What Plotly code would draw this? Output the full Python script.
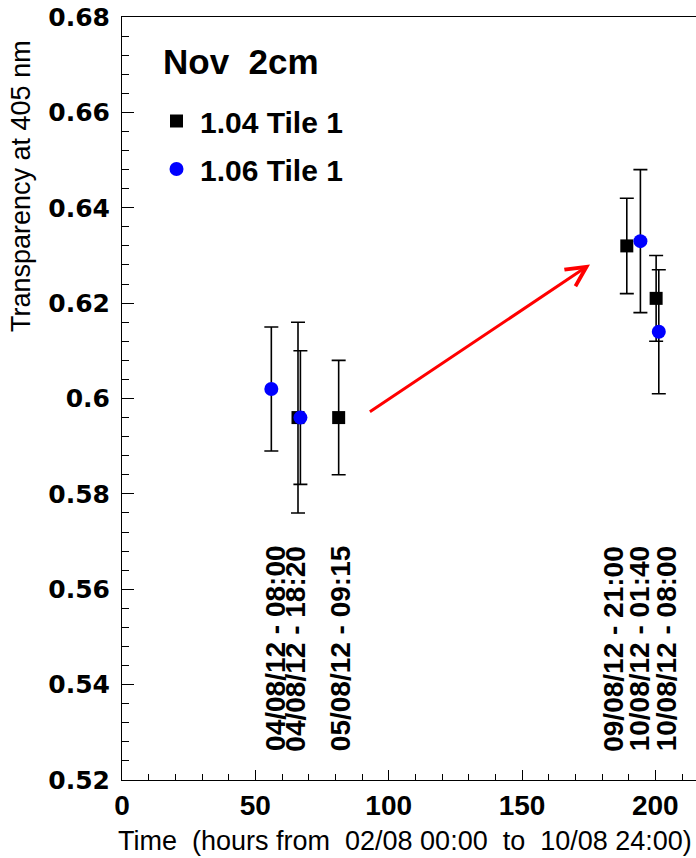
import plotly.graph_objects as go

# Transparency at 405 nm, Nov 2cm samples
# times in hours from 02/08 00:00
t_104 = [66.0, 81.25, 189.3, 200.3]
v_104 = [0.596, 0.596, 0.632, 0.621]
e_104_up = [0.020, 0.012, 0.010, 0.009]
e_104_dn = [0.020, 0.012, 0.010, 0.009]

t_106 = [56.0, 66.9, 194.4, 201.3]
v_106 = [0.602, 0.596, 0.633, 0.614]
e_106_up = [0.013, 0.014, 0.015, 0.013]
e_106_dn = [0.013, 0.014, 0.015, 0.013]

# measurement time stamps written along the x axis
stamp_text = ["04/08/12 - 08:00", "04/08/12 - 18:20", "05/08/12 - 09:15",
              "09/08/12 - 21:00", "10/08/12 - 01:40", "10/08/12 - 08:00"]
stamp_x = [57.6, 65.0, 81.7, 184.3, 193.9, 204.0]

x_ticks = [0, 50, 100, 150, 200]
y_ticks = [0.52, 0.54, 0.56, 0.58, 0.60, 0.62, 0.64, 0.66, 0.68]
y_ticktext = ["0.52", "0.54", "0.56", "0.58", "0.6", "0.62", "0.64", "0.66", "0.68"]

ARIAL = "Liberation Sans"

fig = go.Figure()

fig.add_trace(go.Scatter(
    x=t_104, y=v_104, mode="markers", name="1.04 Tile 1",
    legendgroup="a",
    marker=dict(symbol="square", size=13, color="black"),
    error_y=dict(type="data", symmetric=False, array=e_104_up, arrayminus=e_104_dn,
                 color="black", thickness=1.6, width=7),
))
fig.add_trace(go.Scatter(
    x=t_106, y=v_106, mode="markers", name="1.06 Tile 1",
    legendgroup="b",
    marker=dict(symbol="circle", size=14, color="#0000ff"),
    error_y=dict(type="data", symmetric=False, array=e_106_up, arrayminus=e_106_dn,
                 color="black", thickness=1.6, width=7),
))

annotations = []
for txt, xs in zip(stamp_text, stamp_x):
    annotations.append(dict(
        x=xs, y=0.5256, xref="x", yref="y", text=txt, showarrow=False,
        textangle=-90, xanchor="center", yanchor="bottom",
        font=dict(family=ARIAL, size=28, color="black", weight="bold"),
    ))

# red arrow between the two measurement groups
annotations.append(dict(
    x=175.5, y=0.6281, ax=92.4, ay=0.597, xref="x", yref="y", axref="x", ayref="y",
    text="", showarrow=True, arrowhead=5, arrowsize=1.3, arrowwidth=3,
    arrowcolor="#ff0000", standoff=0, startstandoff=0,
))

annotations.append(dict(
    x=(161 - 122) / 574, y=1 - (62 - 17) / 763, xref="paper", yref="paper",
    text="Nov\u00a0\u00a02cm", showarrow=False, xanchor="left", yanchor="middle",
    font=dict(family=ARIAL, size=35, color="black", weight="bold"),
))

# axis titles
annotations.append(dict(
    x=(21 - 122) / 574, y=1 - (186 - 17) / 763, xref="paper", yref="paper",
    text="Transparency at 405 nm", showarrow=False, textangle=-90,
    xanchor="center", yanchor="middle",
    font=dict(family=ARIAL, size=27, color="black"),
))
annotations.append(dict(
    x=(404.5 - 122) / 574, y=1 - (841 - 17) / 763, xref="paper", yref="paper",
    text="Time\u00a0\u00a0(hours from\u00a0\u00a002/08 00:00\u00a0\u00a0to\u00a0\u00a010/08 24:00)",
    showarrow=False, xanchor="center", yanchor="middle",
    font=dict(family=ARIAL, size=27, color="black"),
))

fig.update_layout(
    width=696, height=858,
    margin=dict(l=122, r=0, t=17, b=78),
    paper_bgcolor="white", plot_bgcolor="white",
    showlegend=True,
    legend=dict(
        x=(153 - 122) / 574, y=1 - (95 - 17) / 763, xanchor="left", yanchor="top",
        font=dict(family=ARIAL, size=30, color="black", weight="bold"),
        bgcolor="rgba(0,0,0,0)", tracegroupgap=6, itemwidth=37,
    ),
    annotations=annotations,
    xaxis=dict(
        range=[0, 215.25], tickvals=x_ticks, ticktext=[str(v) for v in x_ticks],
        showgrid=False, zeroline=False,
        showline=True, linecolor="black", linewidth=1, mirror=True,
        ticks="inside", ticklen=10, tickcolor="black", tickwidth=1,
        minor=dict(dtick=10, tick0=0, ticks="inside", ticklen=6, tickcolor="black"),
        tickfont=dict(family=ARIAL, size=28, color="black", weight="bold"),
    ),
    yaxis=dict(
        range=[0.52, 0.68], tickvals=y_ticks, ticktext=y_ticktext,
        showgrid=False, zeroline=False,
        showline=True, linecolor="black", linewidth=1, mirror=False,
        ticks="inside", ticklen=12, tickcolor="black", tickwidth=1,
        minor=dict(dtick=0.004, tick0=0.52, ticks="inside", ticklen=7, tickcolor="black"),
        tickfont=dict(family="DejaVu Sans", size=25, color="black", weight="bold"),
        ticklabelstandoff=6,
    ),
)

fig.write_html("out.html")
